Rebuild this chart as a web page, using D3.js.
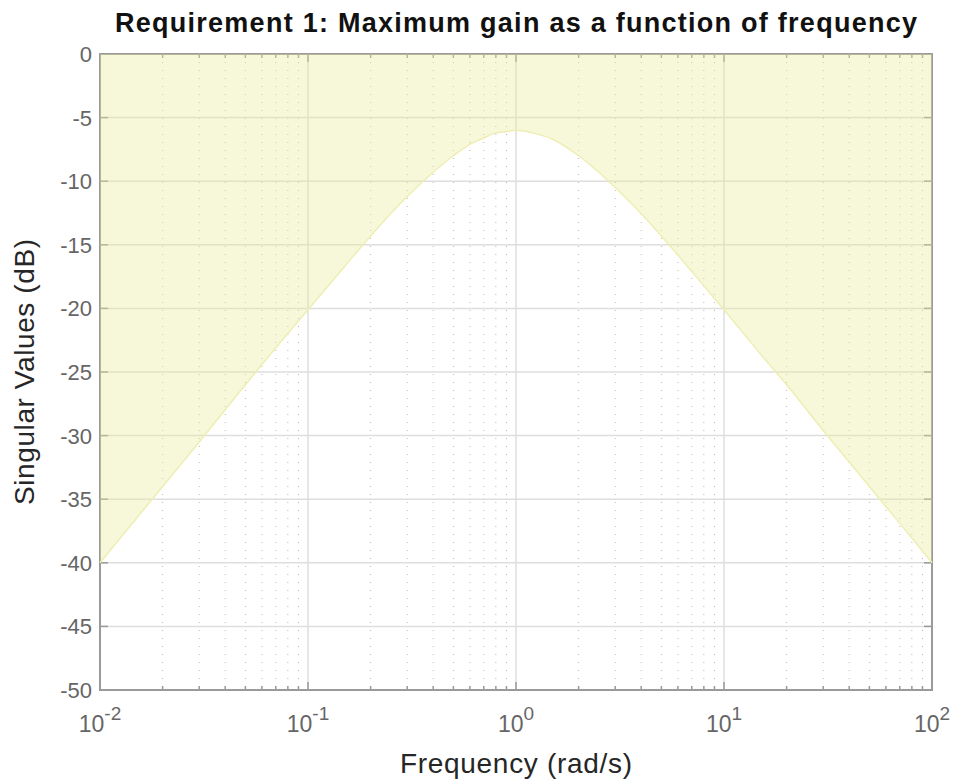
<!DOCTYPE html>
<html>
<head>
<meta charset="utf-8">
<script src="https://cdn.jsdelivr.net/npm/d3@7"></script>
<style>
  body { margin: 0; background: #fff; }
  text { font-family: "Liberation Sans", Arial, Helvetica, sans-serif; }
</style>
</head>
<body>
<div id="chart"></div>
<script>
// bound curve (rad/s, dB)
const freqs = [0.01, 0.02, 0.03, 0.05, 0.07, 0.1, 0.15, 0.2, 0.3, 0.4, 0.5, 0.6, 0.7, 0.8, 0.9, 1,
    1.2, 1.5, 2, 3, 5, 7, 10, 15, 20, 30, 50, 70, 100]
const gains = [-40, -34, -30.5, -26, -23.1, -20.1, -16.7, -14.3, -11.2, -9.3, -8, -7.1, -6.6, -6.2, -6.1, -6,
    -6.2, -6.7, -8, -10.5, -14.3, -17.1, -20.1, -23.6, -26, -29.6, -34, -36.9, -40]

const yTicks = [0, -5, -10, -15, -20, -25, -30, -35, -40, -45, -50]
const xDecades = [0.01, 0.1, 1, 10, 100]
const xTickExp = ["-2", "-1", "0", "1", "2"]

const W = 955, H = 779
const margin = {top: 54, right: 23, bottom: 89, left: 100}
const width = W - margin.left - margin.right
const height = H - margin.top - margin.bottom

const svg = d3.select("#chart")
    .append("svg")
    .attr("width", W)
    .attr("height", H)

const g = svg.append("g")
    .attr("transform", "translate(" + margin.left + "," + margin.top + ")")

const x = d3.scaleLog().domain([0.01, 100]).range([0, width])
const y = d3.scaleLinear().domain([-50, 0]).range([height, 0])

// minor x values: 2..9 in each decade
let minors = []
xDecades.slice(0, -1).forEach(d => {
    for (let k = 2; k <= 9; k++) minors.push(d * k)
})

// grid
g.append("g").selectAll("line.minor")
    .data(minors)
    .enter().append("line")
    .attr("x1", d => x(d)).attr("x2", d => x(d))
    .attr("y1", 0).attr("y2", height)
    .attr("stroke", "#b8b8b8")
    .attr("stroke-width", 1)
    .attr("stroke-dasharray", "1,7")

g.append("g").selectAll("line.hgrid")
    .data(yTicks)
    .enter().append("line")
    .attr("x1", 0).attr("x2", width)
    .attr("y1", d => y(d)).attr("y2", d => y(d))
    .attr("stroke", "#dedede")
    .attr("stroke-width", 1.5)

g.append("g").selectAll("line.vgrid")
    .data(xDecades)
    .enter().append("line")
    .attr("x1", d => x(d)).attr("x2", d => x(d))
    .attr("y1", 0).attr("y2", height)
    .attr("stroke", "#dedede")
    .attr("stroke-width", 1.5)

// axes box and ticks
const axisColor = "#9a9a9a"
g.append("rect")
    .attr("x", 0).attr("y", 0)
    .attr("width", width).attr("height", height)
    .attr("fill", "none")
    .attr("stroke", axisColor)
    .attr("stroke-width", 2)

const ticks = g.append("g").attr("stroke", axisColor).attr("stroke-width", 1.5)
ticks.selectAll("line.yl").data(yTicks).enter().append("line")
    .attr("x1", 0).attr("x2", 8).attr("y1", d => y(d)).attr("y2", d => y(d))
ticks.selectAll("line.yr").data(yTicks).enter().append("line")
    .attr("x1", width - 8).attr("x2", width).attr("y1", d => y(d)).attr("y2", d => y(d))
ticks.selectAll("line.xb").data(xDecades).enter().append("line")
    .attr("x1", d => x(d)).attr("x2", d => x(d)).attr("y1", height).attr("y2", height - 8)
ticks.selectAll("line.xt").data(xDecades).enter().append("line")
    .attr("x1", d => x(d)).attr("x2", d => x(d)).attr("y1", 0).attr("y2", 8)
ticks.selectAll("line.xbm").data(minors).enter().append("line")
    .attr("x1", d => x(d)).attr("x2", d => x(d)).attr("y1", height).attr("y2", height - 4)
ticks.selectAll("line.xtm").data(minors).enter().append("line")
    .attr("x1", d => x(d)).attr("x2", d => x(d)).attr("y1", 0).attr("y2", 4)

// shaded requirement region
const pts = freqs.map((f, i) => ({f: f, v: gains[i]}))
const area = d3.area()
    .x(d => x(d.f))
    .y0(y(0))
    .y1(d => y(d.v))
    .curve(d3.curveMonotoneX)
g.append("path")
    .datum(pts)
    .attr("d", area)
    .attr("fill", "rgb(232,232,150)")
    .attr("fill-opacity", 0.36)

const line = d3.line()
    .x(d => x(d.f))
    .y(d => y(d.v))
    .curve(d3.curveMonotoneX)
g.append("path")
    .datum(pts)
    .attr("d", line)
    .attr("fill", "none")
    .attr("stroke", "#eeeeb4")
    .attr("stroke-width", 1.5)

// tick labels
g.append("g").selectAll("text")
    .data(yTicks)
    .enter().append("text")
    .attr("x", -8)
    .attr("y", d => y(d))
    .attr("dy", "0.36em")
    .attr("text-anchor", "end")
    .attr("font-size", 22)
    .attr("fill", "#666")
    .text(d => d)

const xl = g.append("g").selectAll("text")
    .data(xDecades)
    .enter().append("text")
    .attr("x", d => x(d))
    .attr("y", height + 42)
    .attr("text-anchor", "middle")
    .attr("font-size", 23)
    .attr("fill", "#666")
xl.append("tspan").text("10")
xl.append("tspan")
    .attr("dy", -12)
    .attr("font-size", 19)
    .text((d, i) => xTickExp[i])

// titles
svg.append("text")
    .attr("x", margin.left + width / 2)
    .attr("y", 32)
    .attr("text-anchor", "middle")
    .attr("font-size", 27)
    .attr("font-weight", "bold")
    .attr("fill", "#111")
    .attr("textLength", 802)
    .attr("lengthAdjust", "spacing")
    .text("Requirement 1: Maximum gain as a function of frequency")

svg.append("text")
    .attr("x", margin.left + width / 2)
    .attr("y", 773)
    .attr("text-anchor", "middle")
    .attr("font-size", 28)
    .attr("fill", "#262626")
    .attr("textLength", 232)
    .attr("lengthAdjust", "spacing")
    .text("Frequency (rad/s)")

svg.append("text")
    .attr("transform", "translate(34," + (margin.top + height / 2) + ") rotate(-90)")
    .attr("text-anchor", "middle")
    .attr("font-size", 28)
    .attr("fill", "#262626")
    .attr("textLength", 266)
    .attr("lengthAdjust", "spacing")
    .text("Singular Values (dB)")
</script>
</body>
</html>
